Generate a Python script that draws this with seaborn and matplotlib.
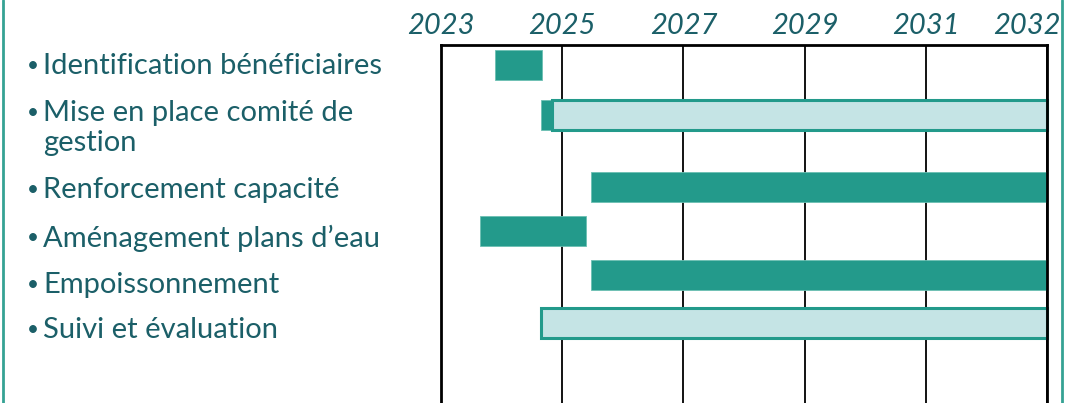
import numpy as np
import pandas as pd
import seaborn as sns
import matplotlib.pyplot as plt
from matplotlib.lines import Line2D
from matplotlib.transforms import ScaledTranslation, blended_transform_factory

# --- données du chronogramme ---
tasks = [
    "Identification bénéficiaires",
    "Mise en place comité de\ngestion",
    "Renforcement capacité",
    "Aménagement plans d’eau",
    "Empoissonnement",
    "Suivi et évaluation",
]
# segments foncés (en cours / réalisé)
dark_start = [2023.89, 2024.65, 2025.48, 2023.64, 2025.48, np.nan]
dark_end = [2024.67, 2024.83, 2033.0, 2025.39, 2033.0, np.nan]
# segments clairs (prévu)
light_start = [np.nan, 2024.83, np.nan, np.nan, np.nan, 2024.65]
light_end = [np.nan, 2033.0, np.nan, np.nan, np.nan, 2033.0]

year_ticks = [2023, 2025, 2027, 2029, 2031, 2033]
year_labels = ["2023", "2025", "2027", "2029", "2031", "2032"]

# mise en page (positions des lignes)
row_pos = [0, 0.97, 2.36, 3.22, 4.07, 5.0]
label_pos = [0.02, 0.93, 2.42, 3.35, 4.26, 5.14]

df = pd.DataFrame({
    "task": tasks, "row": row_pos,
    "dark_start": dark_start, "dark_end": dark_end,
    "light_start": light_start, "light_end": light_end,
})

sns.set_theme(style="white")
plt.rcParams["font.family"] = ["Lato", "DejaVu Sans"]

text_col = "#1b5f68"
dark_col = "#239a8b"
light_col = "#c5e4e5"

fig, ax = plt.subplots(figsize=(10.84, 4.03), dpi=100)
fig.subplots_adjust(left=441 / 1084, right=1047 / 1084, top=1 - 45 / 403, bottom=0)

bar_h = 0.58
d = df.dropna(subset=["dark_start"])
ax.barh(d["row"], d["dark_end"] - d["dark_start"], left=d["dark_start"],
        height=bar_h, color=dark_col, edgecolor="#6cbfb3", linewidth=0.6, zorder=3)
l = df.dropna(subset=["light_start"])
ax.barh(l["row"], l["light_end"] - l["light_start"], left=l["light_start"],
        height=bar_h, color=light_col, edgecolor=dark_col, linewidth=2.2,
        zorder=3, clip_on=False)

ax.set_xlim(year_ticks[0], year_ticks[-1])
ax.set_ylim(6.55, -0.39)
ax.set_yticks([])
ax.set_xticks(year_ticks)
ax.set_xticklabels(year_labels, fontsize=21, fontstyle="italic", color=text_col)
ax.xaxis.tick_top()
ax.tick_params(axis="x", length=0, pad=4)
ax.grid(axis="x", color="black", linewidth=1.3)
ax.set_axisbelow(True)

last = ax.get_xticklabels()[-1]
last.set_transform(last.get_transform() + ScaledTranslation(-20 / 100, 0, fig.dpi_scale_trans))

for side in ["left", "top", "right"]:
    ax.spines[side].set_color("black")
    ax.spines[side].set_linewidth(2.0)
    ax.spines[side].set_zorder(4)
ax.spines["bottom"].set_visible(False)

# libellés à puces à gauche
tr = blended_transform_factory(fig.transFigure, ax.transData)
line_step = 0.58
for name, y in zip(tasks, label_pos):
    ax.text(27 / 1084, y, "•", transform=tr, ha="left", va="center",
            fontsize=15, color=text_col)
    for i, part in enumerate(name.split("\n")):
        ax.text(43 / 1084, y + i * line_step, part, transform=tr, ha="left",
                va="center", fontsize=21, color=text_col)

# cadre vert de la diapositive
for xf in [3 / 1084, 1062 / 1084]:
    fig.add_artist(Line2D([xf, xf], [0, 1], color="#35a294", linewidth=2))

fig.savefig("out.png", dpi=100)
